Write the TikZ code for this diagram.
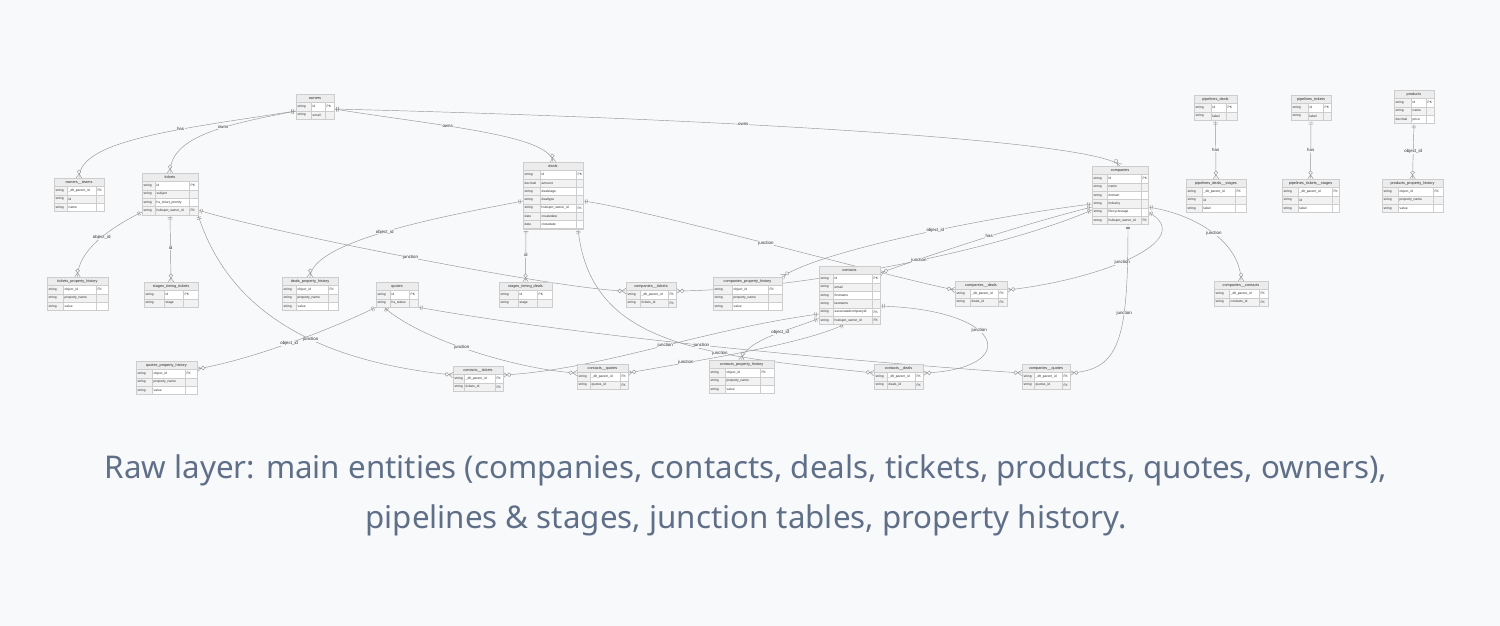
\documentclass[tikz,border=0pt]{standalone}
\usepackage{fontspec}
\setmainfont{Liberation Sans}
\newfontfamily\capfont{Noto Sans}
\usetikzlibrary{decorations.markings,calc}
\definecolor{bgc}{RGB}{248,249,251}
\definecolor{edgec}{RGB}{150,150,150}
\definecolor{tabline}{RGB}{205,205,205}
\definecolor{hdrfill}{RGB}{236,236,236}
\definecolor{cellgrey}{RGB}{242,242,242}
\definecolor{txtc}{RGB}{45,45,45}
\definecolor{capc}{RGB}{96,111,136}
\pgfdeclarelayer{back}\pgfdeclarelayer{edges}
\pgfsetlayers{back,edges,main}
\newcommand\cellf{\fontsize{3.3}{4}\selectfont}
\newcommand\ttlf{\fontsize{3.8}{4.5}\selectfont}
\newcommand\lblf{\fontsize{4.4}{5}\selectfont}
% #1 id, #2 x, #3 y, #4 type w, #5 name w, #6 key w, #7 title, #8 rows
\newcommand\ertab[8]{%
  \pgfmathsetmacro\tW{#4+#5+#6}%
  \pgfmathsetmacro\xa{#2+#4}%
  \pgfmathsetmacro\xb{#2+#4+#5}%
  \pgfmathsetmacro\xe{#2+#4+#5+#6}%
  \pgfmathsetmacro\hy{#3+8.6}%
  \fill[hdrfill] (#2,#3) rectangle (\xe,\hy);
  \node[font=\ttlf,text=txtc,inner sep=0] at ({#2+\tW/2},{#3+4.3}) {#7};
  \foreach[count=\i] \ty/\nm/\ky in {#8}{%
    \pgfmathsetmacro\ya{\hy+(\i-1)*8.3}%
    \pgfmathsetmacro\yb{\ya+8.3}%
    \pgfmathsetmacro\ym{\ya+4.15}%
    \fill[cellgrey] (#2,\ya) rectangle (\xa,\yb);
    \ifodd\i\relax
      \fill[white] (\xa,\ya) rectangle (\xe,\yb);
    \else
      \fill[cellgrey] (\xa,\ya) rectangle (\xe,\yb);
    \fi
    \draw[tabline,line width=0.35pt] (#2,\ya) rectangle (\xa,\yb) (\xa,\ya) rectangle (\xb,\yb) (\xb,\ya) rectangle (\xe,\yb);
    \node[anchor=west,font=\cellf,text=txtc,inner sep=0] at ({#2+1.5},\ym) {\ty};
    \node[anchor=west,font=\cellf,text=txtc,inner sep=0] at ({\xa+1.5},\ym) {\nm};
    \node[anchor=west,font=\cellf,text=txtc,inner sep=0] at ({\xb+1.5},\ym) {\ky};
    \xdef\nrows{\i}%
  }
  \pgfmathsetmacro\tH{8.6+\nrows*8.3}%
  \node[draw=tabline,line width=0.5pt,minimum width=\tW pt,minimum height=\tH pt,anchor=north west,inner sep=0,outer sep=0] (#1) at (#2,#3) {};
}
\tikzset{
  rel/.style={draw=edgec,line width=0.45pt},
  oneS/.style={postaction={decorate,decoration={markings,mark=at position 0 with {\draw[edgec,line width=0.45pt] (2.6pt,-2.3pt)--(2.6pt,2.3pt) (4.3pt,-2.3pt)--(4.3pt,2.3pt);}}}},
  manyE/.style={postaction={decorate,decoration={markings,mark=at position 0.9999 with {\draw[edgec,line width=0.45pt] (0pt,-2.8pt)--(-4.2pt,0pt)--(0pt,2.8pt); \draw[edgec,line width=0.45pt,fill=bgc] (-6.2pt,0pt) circle[radius=1.9pt];}}}},
  lab/.style={font=\lblf,text=txtc,fill=bgc,inner sep=0.4pt},
}
\begin{document}
\begin{tikzpicture}[x=1pt,y=-1pt]
\begin{pgfonlayer}{back}
\fill[bgc] (0,0) rectangle (1500,626);
\end{pgfonlayer}
\useasboundingbox (0,0) rectangle (1500,626);

% ---------- tables ----------
\ertab{owners}{296}{94}{15}{14}{9}{owners}{string/id/PK,string/email/}
\ertab{ot}{54}{178}{13}{29}{8}{owners\_\_teams}{string/\_dlt\_parent\_id/FK,string/id/,string/name/}
\ertab{tickets}{142}{173}{13}{34}{9}{tickets}{string/id/PK,string/subject/,string/hs\_ticket\_priority/,string/hubspot\_owner\_id/FK}
\ertab{deals}{523}{162}{17}{36}{7}{deals}{string/id/PK,decimal/amount/,string/dealstage/,string/dealtype/,string/hubspot\_owner\_id/FK,date/createdate/,date/closedate/}
\ertab{companies}{1092}{166}{15}{34}{7}{companies}{string/id/PK,string/name/,string/domain/,string/industry/,string/lifecyclestage/,string/hubspot\_owner\_id/FK}
\ertab{contacts}{819}{266}{14}{39}{8}{contacts}{string/id/PK,string/email/,string/firstname/,string/lastname/,string/associatedcompanyid/FK,string/hubspot\_owner\_id/FK}
\ertab{pd}{1194}{95}{17}{15}{11}{pipelines\_deals}{string/id/PK,string/label/}
\ertab{pt}{1291}{95}{17}{15}{8}{pipelines\_tickets}{string/id/PK,string/label/}
\ertab{products}{1394}{90}{17}{15}{8}{products}{string/id/PK,string/name/,decimal/price/}
\ertab{pds}{1186}{179}{16}{33}{11}{pipelines\_deals\_\_stages}{string/\_dlt\_parent\_id/FK,string/id/,string/label/}
\ertab{pts}{1282}{179}{16}{34}{7}{pipelines\_tickets\_\_stages}{string/\_dlt\_parent\_id/FK,string/id/,string/label/}
\ertab{pph}{1382}{179}{16}{35}{10}{products\_property\_history}{string/object\_id/FK,string/property\_name/,string/value/}
\ertab{tph}{47}{277}{16}{33}{12}{tickets\_property\_history}{string/object\_id/FK,string/property\_name/,string/value/}
\ertab{stt}{144}{282}{20}{19}{15}{stages\_timing\_tickets}{string/id/PK,string/stage/}
\ertab{dph}{282}{277}{14}{32}{10}{deals\_property\_history}{string/object\_id/FK,string/property\_name/,string/value/}
\ertab{quotes}{376}{282}{14}{19}{9}{quotes}{string/id/PK,string/hs\_status/}
\ertab{std}{499}{282}{19}{19}{15}{stages\_timing\_deals}{string/id/PK,string/stage/}
\ertab{ctk}{626}{282}{14}{28}{8}{companies\_\_tickets}{string/\_dlt\_parent\_id/FK,string/tickets\_id/FK}
\ertab{cph}{713}{277}{19}{36}{14}{companies\_property\_history}{string/object\_id/FK,string/property\_name/,string/value/}
\ertab{cdl}{955}{281}{15}{28}{9}{companies\_\_deals}{string/\_dlt\_parent\_id/FK,string/deals\_id/FK}
\ertab{ccn}{1214}{281}{15}{30}{9}{companies\_\_contacts}{string/\_dlt\_parent\_id/FK,string/contacts\_id/FK}
\ertab{qph}{136}{361}{16}{33}{12}{quotes\_property\_history}{string/object\_id/FK,string/property\_name/,string/value/}
\ertab{ctt}{453}{366}{11}{31}{8}{contacts\_\_tickets}{string/\_dlt\_parent\_id/FK,string/tickets\_id/FK}
\ertab{cqu}{577}{364}{13}{30}{8}{contacts\_\_quotes}{string/\_dlt\_parent\_id/FK,string/quotes\_id/FK}
\ertab{cph2}{709}{360}{16}{35}{14}{contacts\_property\_history}{string/object\_id/FK,string/property\_name/,string/value/}
\ertab{ctd}{874}{364}{13}{28}{8}{contacts\_\_deals}{string/\_dlt\_parent\_id/FK,string/deals\_id/FK}
\ertab{cqt}{1022}{364}{12}{28}{8}{companies\_\_quotes}{string/\_dlt\_parent\_id/FK,string/quotes\_id/FK}

% ---------- relationships ----------
\begin{pgfonlayer}{edges}
\draw[rel,oneS,manyE] ($(owners.north west)+(0,17)$) .. controls (180,129) and (79,140) .. (ot.north) node[lab,pos=0.36]{has};
\draw[rel,oneS,manyE] ($(owners.north west)+(0,17)$) .. controls (230,124) and (170,135) .. (tickets.north) node[lab,pos=0.4]{owns};
\draw[rel,oneS,manyE] ($(owners.north east)+(0,15)$) .. controls (440,126) and (550,135) .. (deals.north) node[lab,pos=0.37]{owns};
\draw[rel,oneS,manyE] ($(owners.north east)+(0,15)$) .. controls (700,118) and (1100,140) .. (companies.north) node[lab,pos=0.38]{owns};
\draw[rel,oneS,manyE] ($(tickets.north west)+(0,39)$) .. controls (110,228) and (78,250) .. (tph.north) node[lab,pos=0.45]{object\_id};
\draw[rel,oneS,manyE] (tickets.south) -- (stt.north) node[lab,pos=0.5]{id};
\draw[rel,oneS,manyE] ($(tickets.north east)+(0,37)$) .. controls (260,230) and (560,290) .. ($(ctk.north west)+(0,9)$) node[lab,pos=0.5]{junction};
\draw[rel,oneS,manyE] (tickets.south east) .. controls (225,300) and (300,360) .. ($(ctt.north west)+(0,9)$) node[lab,pos=0.62]{junction};
\draw[rel,oneS,manyE] ($(deals.north west)+(0,39)$) .. controls (450,215) and (312,240) .. (dph.north) node[lab,pos=0.52]{object\_id};
\draw[rel,oneS,manyE] ($(deals.south west)+(3,0)$) -- (std.north) node[lab,pos=0.5]{id};
\draw[rel,oneS,manyE] ($(deals.north east)+(0,39)$) .. controls (650,210) and (880,275) .. ($(cdl.north west)+(0,9)$) node[lab,pos=0.5]{junction};
\draw[rel,oneS,manyE] ($(deals.south east)+(-5,0)$) .. controls (590,345) and (700,355) .. ($(ctd.north west)+(0,9)$) node[lab,pos=0.66]{junction};
\draw[rel,oneS,manyE] ($(companies.north west)+(0,38)$) .. controls (1000,215) and (820,250) .. (cph.north east) node[lab,pos=0.45]{object\_id};
\draw[rel,oneS,manyE] ($(companies.north west)+(0,41)$) .. controls (1020,225) and (930,255) .. ($(contacts.north east)+(0,7)$) node[lab,pos=0.45]{has};
\draw[rel,oneS,manyE] ($(companies.north west)+(0,44)$) .. controls (1000,250) and (800,290) .. ($(ctk.north east)+(0,9)$) node[lab,pos=0.45]{junction};
\draw[rel,oneS,manyE] ($(companies.north east)+(0,46)$) .. controls (1200,240) and (1100,280) .. ($(cdl.north east)+(0,9)$) node[lab,pos=0.55]{junction};
\draw[rel,oneS,manyE] ($(companies.north east)+(0,41)$) .. controls (1200,215) and (1241,245) .. (ccn.north) node[lab,pos=0.5]{junction};
\draw[rel,oneS,manyE] ($(companies.south)+(8,0)$) .. controls (1128,340) and (1120,370) .. ($(cqt.north east)+(0,9)$) node[lab,pos=0.33]{junction};
\draw[rel,oneS,manyE] ($(contacts.south west)+(0,-6)$) .. controls (790,330) and (745,340) .. (cph2.north) node[lab,pos=0.4]{object\_id};
\draw[rel,oneS,manyE] ($(contacts.north east)+(0,40)$) .. controls (1010,310) and (1020,370) .. ($(ctd.north east)+(0,9)$) node[lab,pos=0.4]{junction};
\draw[rel,oneS,manyE] ($(contacts.north west)+(0,48)$) .. controls (700,330) and (600,370) .. ($(ctt.north east)+(0,9)$) node[lab,pos=0.46]{junction};
\draw[rel,oneS,manyE] ($(contacts.south)+(-5,0)$) .. controls (800,345) and (700,360) .. ($(cqu.north east)+(0,9)$) node[lab,pos=0.75]{junction};
\draw[rel,oneS,manyE] (quotes.south west) .. controls (330,330) and (250,360) .. ($(qph.north east)+(0,8)$) node[lab,pos=0.5]{object\_id};
\draw[rel,oneS,manyE] ($(quotes.south west)+(8,0)$) .. controls (420,340) and (520,370) .. ($(cqu.north west)+(0,9)$) node[lab,pos=0.45]{junction};
\draw[rel,oneS,manyE] (quotes.south east) .. controls (600,340) and (900,365) .. ($(cqt.north west)+(0,9)$) node[lab,pos=0.44]{junction};
\draw[rel,oneS,manyE] (pd.south) -- (pds.north) node[lab,pos=0.5]{has};
\draw[rel,oneS,manyE] (pt.south) -- (pts.north) node[lab,pos=0.5]{has};
\draw[rel,oneS,manyE] (products.south) -- (pph.north) node[lab,pos=0.5]{object\_id};
\end{pgfonlayer}

% ---------- caption ----------
\node[anchor=base,font=\capfont\fontsize{31.3}{36}\selectfont,text=capc,inner sep=0] (cap1) at (746,478) {Raw layer: main entities (companies, contacts, deals, tickets, products, quotes, owners),};
\node[anchor=base,font=\capfont\fontsize{31.3}{36}\selectfont,text=capc,inner sep=0] (cap2) at (746,528) {pipelines \& stages, junction tables, property history.};
\end{tikzpicture}
\end{document}
